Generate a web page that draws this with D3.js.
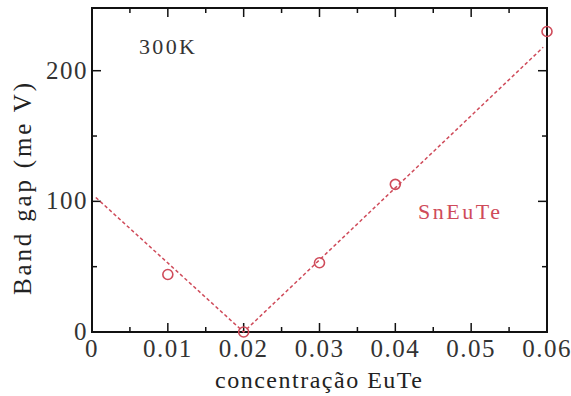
<!DOCTYPE html>
<html>
<head>
<meta charset="utf-8">
<script src="https://cdn.jsdelivr.net/npm/d3@7"></script>
<style>
  body { margin: 0; background: #fff; }
  svg text { font-family: "Liberation Serif", "DejaVu Serif", serif; }
</style>
</head>
<body>
<script>
// chart size and plot frame
var width = 571, height = 396
var margin = { top: 8, left: 92, right: 24, bottom: 64 }

// measured points
const concX = [0.01, 0.02, 0.03, 0.04, 0.06]
const gapY = [44, 0, 53, 113, 230]

// dashed fit lines (two segments)
const fitX = [0.0005, 0.02, 0.0595]
const fitY = [103, 0, 218]

const xTicks = [0, 0.01, 0.02, 0.03, 0.04, 0.05, 0.06]
const xMinor = [0.005, 0.015, 0.025, 0.035, 0.045, 0.055]
const yTicks = [0, 100, 200]
const yMinor = [50, 150]

var red = "#cf4b5a"

var svg = d3.select("body").append("svg")
    .attr("width", width)
    .attr("height", height)

var pw = width - margin.left - margin.right
var ph = height - margin.top - margin.bottom

var xScale = d3.scaleLinear().domain([0, 0.06]).range([0, pw])
var yScale = d3.scaleLinear().domain([0, 248]).range([ph, 0])

var g = svg.append("g")
    .attr("transform", "translate(" + margin.left + "," + margin.top + ")")

// frame
g.append("rect")
    .attr("width", pw).attr("height", ph)
    .attr("fill", "none").attr("stroke", "#111").attr("stroke-width", 2)

// ticks, all pointing inward
function tickMarks(vals, len) {
    vals.forEach(function (v) {
        var x = xScale(v)
        g.append("line").attr("x1", x).attr("x2", x).attr("y1", ph).attr("y2", ph - len)
            .attr("stroke", "#111").attr("stroke-width", 1.5)
        g.append("line").attr("x1", x).attr("x2", x).attr("y1", 0).attr("y2", len)
            .attr("stroke", "#111").attr("stroke-width", 1.5)
    })
}
function yTickMarks(vals, len) {
    vals.forEach(function (v) {
        var y = yScale(v)
        g.append("line").attr("x1", 0).attr("x2", len).attr("y1", y).attr("y2", y)
            .attr("stroke", "#111").attr("stroke-width", 1.5)
        g.append("line").attr("x1", pw).attr("x2", pw - len).attr("y1", y).attr("y2", y)
            .attr("stroke", "#111").attr("stroke-width", 1.5)
    })
}
tickMarks(xTicks.slice(1, -1), 9)
tickMarks(xMinor, 5)
yTickMarks(yTicks.slice(1), 9)
yTickMarks(yMinor, 5)

// tick labels
g.selectAll(".xlab").data(xTicks).enter().append("text")
    .attr("class", "xlab")
    .attr("x", function (d) { return xScale(d) })
    .attr("y", ph + 25)
    .attr("text-anchor", "middle")
    .attr("font-size", 25)
    .attr("letter-spacing", 1.5)
    .attr("fill", "#333")
    .text(function (d) { return d === 0 ? "0" : d3.format(".2f")(d) })

g.selectAll(".ylab").data(yTicks).enter().append("text")
    .attr("class", "ylab")
    .attr("x", -4)
    .attr("y", function (d) { return yScale(d) + 8 })
    .attr("text-anchor", "end")
    .attr("font-size", 25)
    .attr("letter-spacing", 1.5)
    .attr("fill", "#333")
    .text(function (d) { return d })

// axis titles
svg.append("text")
    .attr("x", 215).attr("y", 388)
    .attr("font-size", 24)
    .attr("textLength", 207)
    .attr("lengthAdjust", "spacing")
    .attr("fill", "#222")
    .text("concentração EuTe")

svg.append("text")
    .attr("transform", "translate(31,295) rotate(-90)")
    .attr("font-size", 25)
    .attr("textLength", 212)
    .attr("lengthAdjust", "spacing")
    .attr("fill", "#222")
    .text("Band gap (me V)")

// fit line
var fit = fitX.map(function (x, i) { return { x: x, y: fitY[i] } })
var line = d3.line()
    .x(function (d) { return xScale(d.x) })
    .y(function (d) { return yScale(d.y) })

g.append("path")
    .datum(fit)
    .attr("d", line)
    .attr("fill", "none")
    .attr("stroke", red)
    .attr("stroke-width", 1.5)
    .attr("stroke-dasharray", "3.5,2.5")

// data points
var pts = concX.map(function (x, i) { return { x: x, y: gapY[i] } })
g.selectAll("circle").data(pts).enter().append("circle")
    .attr("cx", function (d) { return xScale(d.x) })
    .attr("cy", function (d) { return yScale(d.y) })
    .attr("r", 5)
    .attr("fill", "none")
    .attr("stroke", red)
    .attr("stroke-width", 1.6)

// annotations
svg.append("text")
    .attr("x", 139).attr("y", 54)
    .attr("font-size", 22)
    .attr("textLength", 56)
    .attr("lengthAdjust", "spacing")
    .attr("fill", "#333")
    .text("300K")

svg.append("text")
    .attr("x", 418).attr("y", 219)
    .attr("font-size", 22)
    .attr("textLength", 82)
    .attr("lengthAdjust", "spacing")
    .attr("fill", red)
    .text("SnEuTe")
</script>
</body>
</html>
